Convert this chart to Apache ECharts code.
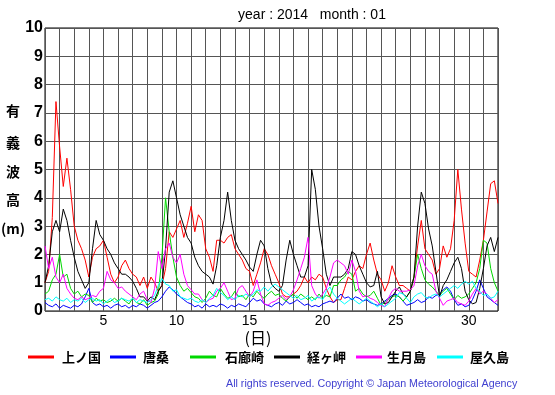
<!DOCTYPE html>
<html>
<head>
<meta charset="utf-8">
<script src="https://cdn.jsdelivr.net/npm/echarts@6/dist/echarts.min.js"></script>
<style>
html,body{margin:0;padding:0;background:#fff;}
#c{width:555px;height:395px;}
</style>
</head>
<body>
<div id="c"></div>
<script>
// Time axis: days of January 2014, 6-hour steps from day 1 00:00
const startDay = 1, stepDay = 0.25, nPoints = 125;
const times = [];
for (let i = 0; i < nPoints; i++) times.push(startDay + i * stepDay);

const seriesNames = ['上ノ国', '唐桑', '石廊崎', '経ヶ岬', '生月島', '屋久島'];
const seriesColors = ['#ff0000', '#0000ff', '#00d800', '#000000', '#ff00ff', '#00ffff'];

// Significant wave height (m)
const kaminokuni = [
1.0,1.4,3.3,7.4, 5.8,4.4,5.4,4.3, 3.0,2.5,2.2,1.8, 1.2,1.9,2.2,2.3,
2.5,1.9,1.3,1.0, 1.2,1.6,1.8,1.5, 1.3,1.2,0.9,1.2, 0.8,1.2,1.0,0.7,
0.9,1.5,2.8,2.6, 2.9,3.2,2.6,3.1, 3.7,2.8,3.4,3.2, 2.2,1.9,1.4,2.5,
2.5,2.4,2.6,2.7, 2.2,2.0,1.8,1.5, 1.4,0.9,1.3,1.7, 2.2,2.0,1.6,1.3,
1.0,0.6,0.5,0.5, 0.6,0.7,0.9,1.2, 1.0,1.2,1.1,1.3, 1.2,0.8,0.5,0.3,
0.4,0.4,0.8,1.2, 1.1,1.4,1.6,1.5, 2.0,2.4,1.8,1.3, 1.1,0.7,1.0,1.6,
1.2,0.9,0.9,0.8, 0.7,1.2,2.3,3.2, 2.2,2.0,1.8,1.3, 1.5,2.3,1.9,2.2,
3.2,5.0,3.6,2.4, 1.4,1.3,1.2,1.8, 2.5,3.5,4.5,4.6, 3.8];
const karakuwa = [
0.3,0.2,0.15,0.25, 0.1,0.2,0.15,0.1, 0.2,0.15,0.25,0.5, 0.8,0.3,0.2,0.25,
0.15,0.2,0.1,0.2, 0.25,0.15,0.2,0.1, 0.2,0.15,0.25,0.2, 0.1,0.2,0.3,0.35,
0.5,0.7,0.85,0.75, 0.6,0.5,0.4,0.3, 0.25,0.15,0.2,0.1, 0.25,0.15,0.2,0.15,
0.25,0.2,0.1,0.2, 0.15,0.25,0.2,0.15, 0.3,0.45,0.35,0.4, 0.25,0.2,0.15,0.25,
0.3,0.2,0.35,0.25, 0.3,0.4,0.3,0.2, 0.25,0.15,0.2,0.15, 0.25,0.3,0.35,0.3,
0.45,0.6,0.45,0.5, 0.4,0.5,0.45,0.35, 0.4,0.3,0.25,0.2, 0.25,0.35,0.45,0.55,
0.6,0.5,0.35,0.2, 0.25,0.3,0.4,0.3, 0.35,0.5,0.45,0.55, 0.6,0.75,0.85,0.7,
0.4,0.2,0.25,0.15, 0.2,0.4,0.7,1.1, 0.8,0.5,0.4,0.3, 0.2];
const irozaki = [
0.6,0.7,1.1,1.3, 2.0,1.2,1.3,0.8, 0.6,0.7,0.5,0.6, 0.55,0.3,0.45,0.35,
0.4,0.3,0.35,0.45, 0.35,0.45,0.35,0.25, 0.45,0.3,0.25,0.4, 0.2,0.3,0.35,0.6,
1.9,4.0,2.8,1.9, 1.2,0.9,0.7,0.8, 0.65,0.5,0.45,0.3, 0.45,0.7,0.55,0.5,
0.8,0.6,0.45,0.5, 0.7,0.5,0.55,0.4, 0.6,0.5,0.7,0.55, 0.45,0.6,0.7,0.55,
0.6,0.45,0.35,0.5, 0.6,0.45,0.6,0.5, 0.4,0.5,0.4,0.6, 0.45,0.55,0.5,0.9,
0.9,1.1,1.2,1.4, 1.3,0.7,0.8,0.6, 0.5,0.55,0.7,0.45, 0.2,0.3,0.4,0.5,
0.55,0.5,0.35,0.5, 0.7,1.2,2.0,1.5, 1.1,0.95,0.85,0.7, 0.55,0.7,0.8,0.6,
0.4,0.55,0.45,0.5, 0.6,0.8,1.0,1.5, 2.5,2.4,1.5,1.0, 0.7];
const kyogamisaki = [
1.0,1.6,2.8,3.2, 2.8,3.6,3.2,2.5, 1.9,1.4,1.1,0.8, 1.0,2.2,3.2,2.7,
2.5,2.2,2.0,1.7, 1.5,1.3,1.3,1.2, 1.05,0.8,0.5,0.5, 0.35,0.5,0.4,0.7,
0.9,2.2,4.2,4.6, 4.0,3.4,3.0,2.6, 2.4,1.9,1.6,1.4, 1.3,1.2,0.95,1.6,
2.6,3.2,4.2,3.2, 2.5,2.2,2.0,1.8, 1.55,1.4,2.0,2.5, 2.3,1.5,0.95,0.8,
0.7,0.9,1.8,2.5, 2.0,1.6,1.2,1.2, 1.6,5.0,4.3,3.0, 2.2,1.3,0.9,1.2,
1.2,1.2,1.3,1.5, 2.1,2.0,1.6,1.3, 1.0,0.85,0.9,1.4, 0.5,0.25,0.3,0.5,
0.7,0.85,0.6,0.5, 0.7,1.2,3.0,4.2, 3.8,2.9,2.3,1.4, 0.5,0.9,1.1,1.4,
1.7,1.9,1.5,0.7, 0.4,0.25,0.3,0.8, 1.5,2.3,2.6,2.1, 2.6];
const ikitsukishima = [
2.3,1.5,1.9,1.2, 1.0,1.3,0.8,0.6, 0.45,0.4,0.5,0.4, 0.45,0.55,0.5,0.7,
0.8,1.4,1.1,1.0, 0.8,0.85,0.7,0.6, 0.5,0.4,0.6,0.7, 0.4,0.3,0.8,2.1,
1.5,2.2,2.4,1.9, 1.7,2.0,1.3,0.9, 0.75,0.6,0.6,0.4, 0.3,0.4,0.45,0.7,
0.8,1.0,0.7,0.4, 0.45,0.8,0.9,0.7, 0.5,0.7,1.1,0.6, 0.25,0.2,0.3,0.35,
0.45,0.55,0.4,0.5, 0.75,1.1,1.5,1.9, 2.6,0.9,0.6,0.45, 0.6,0.8,1.2,1.7,
1.8,1.7,1.6,1.3, 1.8,1.4,0.7,0.5, 0.55,0.45,0.4,0.3, 0.2,0.15,0.45,0.7,
0.8,0.7,0.7,0.7, 0.75,0.9,1.6,2.0, 1.6,1.4,1.3,0.7, 0.45,0.2,0.35,0.4,
0.45,0.3,0.25,0.2, 0.35,0.6,0.8,0.6, 0.7,0.6,0.45,0.3, 0.4];
const yakushima = [
0.4,0.45,0.35,0.5, 0.4,0.35,0.45,0.3, 0.4,0.35,0.45,0.3, 0.4,0.45,0.35,0.4,
0.25,0.35,0.45,0.3, 0.35,0.45,0.4,0.35, 0.45,0.3,0.4,0.35, 0.3,0.4,0.55,0.9,
1.15,0.95,0.9,0.7, 0.75,0.5,0.45,0.4, 0.45,0.35,0.3,0.4, 0.3,0.45,0.55,0.8,
0.65,0.55,0.4,0.5, 0.4,0.55,0.5,0.6, 0.5,0.6,0.75,0.7, 0.85,0.7,0.85,0.95,
0.85,0.75,0.65,0.55, 0.45,0.55,0.4,0.45, 0.55,0.35,0.45,0.5, 0.4,0.7,0.85,0.6,
0.45,0.35,0.25,0.35, 0.45,0.35,0.25,0.35, 0.45,0.35,0.25,0.15, 0.25,0.15,0.25,0.35,
0.45,0.65,0.6,0.45, 0.3,0.5,0.6,0.65, 0.5,0.45,0.55,0.6, 0.5,0.6,0.7,0.8,
0.9,0.8,0.95,1.05, 0.95,1.05,0.8,0.7, 0.55,0.6,0.45,0.5, 0.7];

const allValues = [kaminokuni, karakuwa, irozaki, kyogamisaki, ikitsukishima, yakushima];
const xLabelDays = [5, 10, 15, 20, 25, 30];
const titleText = 'year : 2014   month : 01';
const yTitleChars = ['有', '義', '波', '高', '(m)'];
const xTitle = '(日)';
const footer = 'All rights reserved. Copyright \u00a9 Japan Meteorological Agency';

const chart = echarts.init(document.getElementById('c'), null, {renderer: 'canvas'});

const series = allValues.map((vals, k) => ({
  name: seriesNames[k],
  type: 'line',
  data: vals.map((v, i) => [times[i], v]),
  showSymbol: false,
  symbol: 'none',
  lineStyle: {color: seriesColors[k], width: 1},
  itemStyle: {color: seriesColors[k]},
  z: 3 + k,
  animation: false
}));

// legend drawn as graphic items
const legendLineX = [28, 110, 190, 274, 356, 437];
const legendTextX = [62, 143, 225, 307, 387, 470];
const graphics = [];
seriesNames.forEach((n, k) => {
  graphics.push({type: 'line', shape: {x1: legendLineX[k], y1: 357, x2: legendLineX[k] + 26, y2: 357},
    style: {stroke: seriesColors[k], lineWidth: 3}});
  graphics.push({type: 'text', x: legendTextX[k], y: 357,
    style: {text: n, fill: '#000', font: 'bold 13px "Noto Sans CJK JP"', textVerticalAlign: 'middle', textBaseline: 'middle'}});
});
const yTitleY = [111, 143, 172, 200, 229];
yTitleChars.forEach((ch, i) => {
  graphics.push({type: 'text', x: 13, y: yTitleY[i],
    style: {text: ch, fill: '#000', font: 'bold 14px "Noto Sans CJK JP"', textAlign: 'center', textVerticalAlign: 'middle', textBaseline: 'middle'}});
});
graphics.push({type: 'text', x: 258, y: 338,
  style: {text: xTitle, fill: '#000', font: '16px "Noto Sans CJK JP"', textAlign: 'center', textVerticalAlign: 'middle', textBaseline: 'middle'}});
graphics.push({type: 'text', x: 312, y: 15,
  style: {text: titleText, fill: '#000', font: '14px "Liberation Sans"', textAlign: 'center', textVerticalAlign: 'middle', textBaseline: 'middle'}});
graphics.push({type: 'text', x: 226, y: 384,
  style: {text: footer, fill: '#4040d0', font: '10.7px "Liberation Sans"', textAlign: 'left', textVerticalAlign: 'middle', textBaseline: 'middle'}});

chart.setOption({
  animation: false,
  backgroundColor: '#fff',
  grid: {left: 45, right: 57, top: 28, bottom: 84, show: true, borderColor: '#000', borderWidth: 1, containLabel: false},
  xAxis: {
    type: 'value', min: 1, max: 32, interval: 1,
    axisLine: {show: false},
    axisTick: {show: false},
    splitLine: {show: true, lineStyle: {color: '#555', width: 1}},
    axisLabel: {
      show: true, margin: 3, color: '#000', fontSize: 14, fontFamily: 'Liberation Sans',
      showMinLabel: false, showMaxLabel: false,
      formatter: v => (xLabelDays.indexOf(v) >= 0 ? String(v) : '')
    }
  },
  yAxis: {
    type: 'value', min: 0, max: 10, interval: 1,
    axisLine: {show: false},
    axisTick: {show: false},
    splitLine: {show: true, lineStyle: {color: '#555', width: 1}},
    axisLabel: {show: true, margin: 2, color: '#000', fontSize: 16, fontWeight: 'bold', fontFamily: 'Liberation Sans'}
  },
  series: series,
  graphic: graphics
});
</script>
</body>
</html>
